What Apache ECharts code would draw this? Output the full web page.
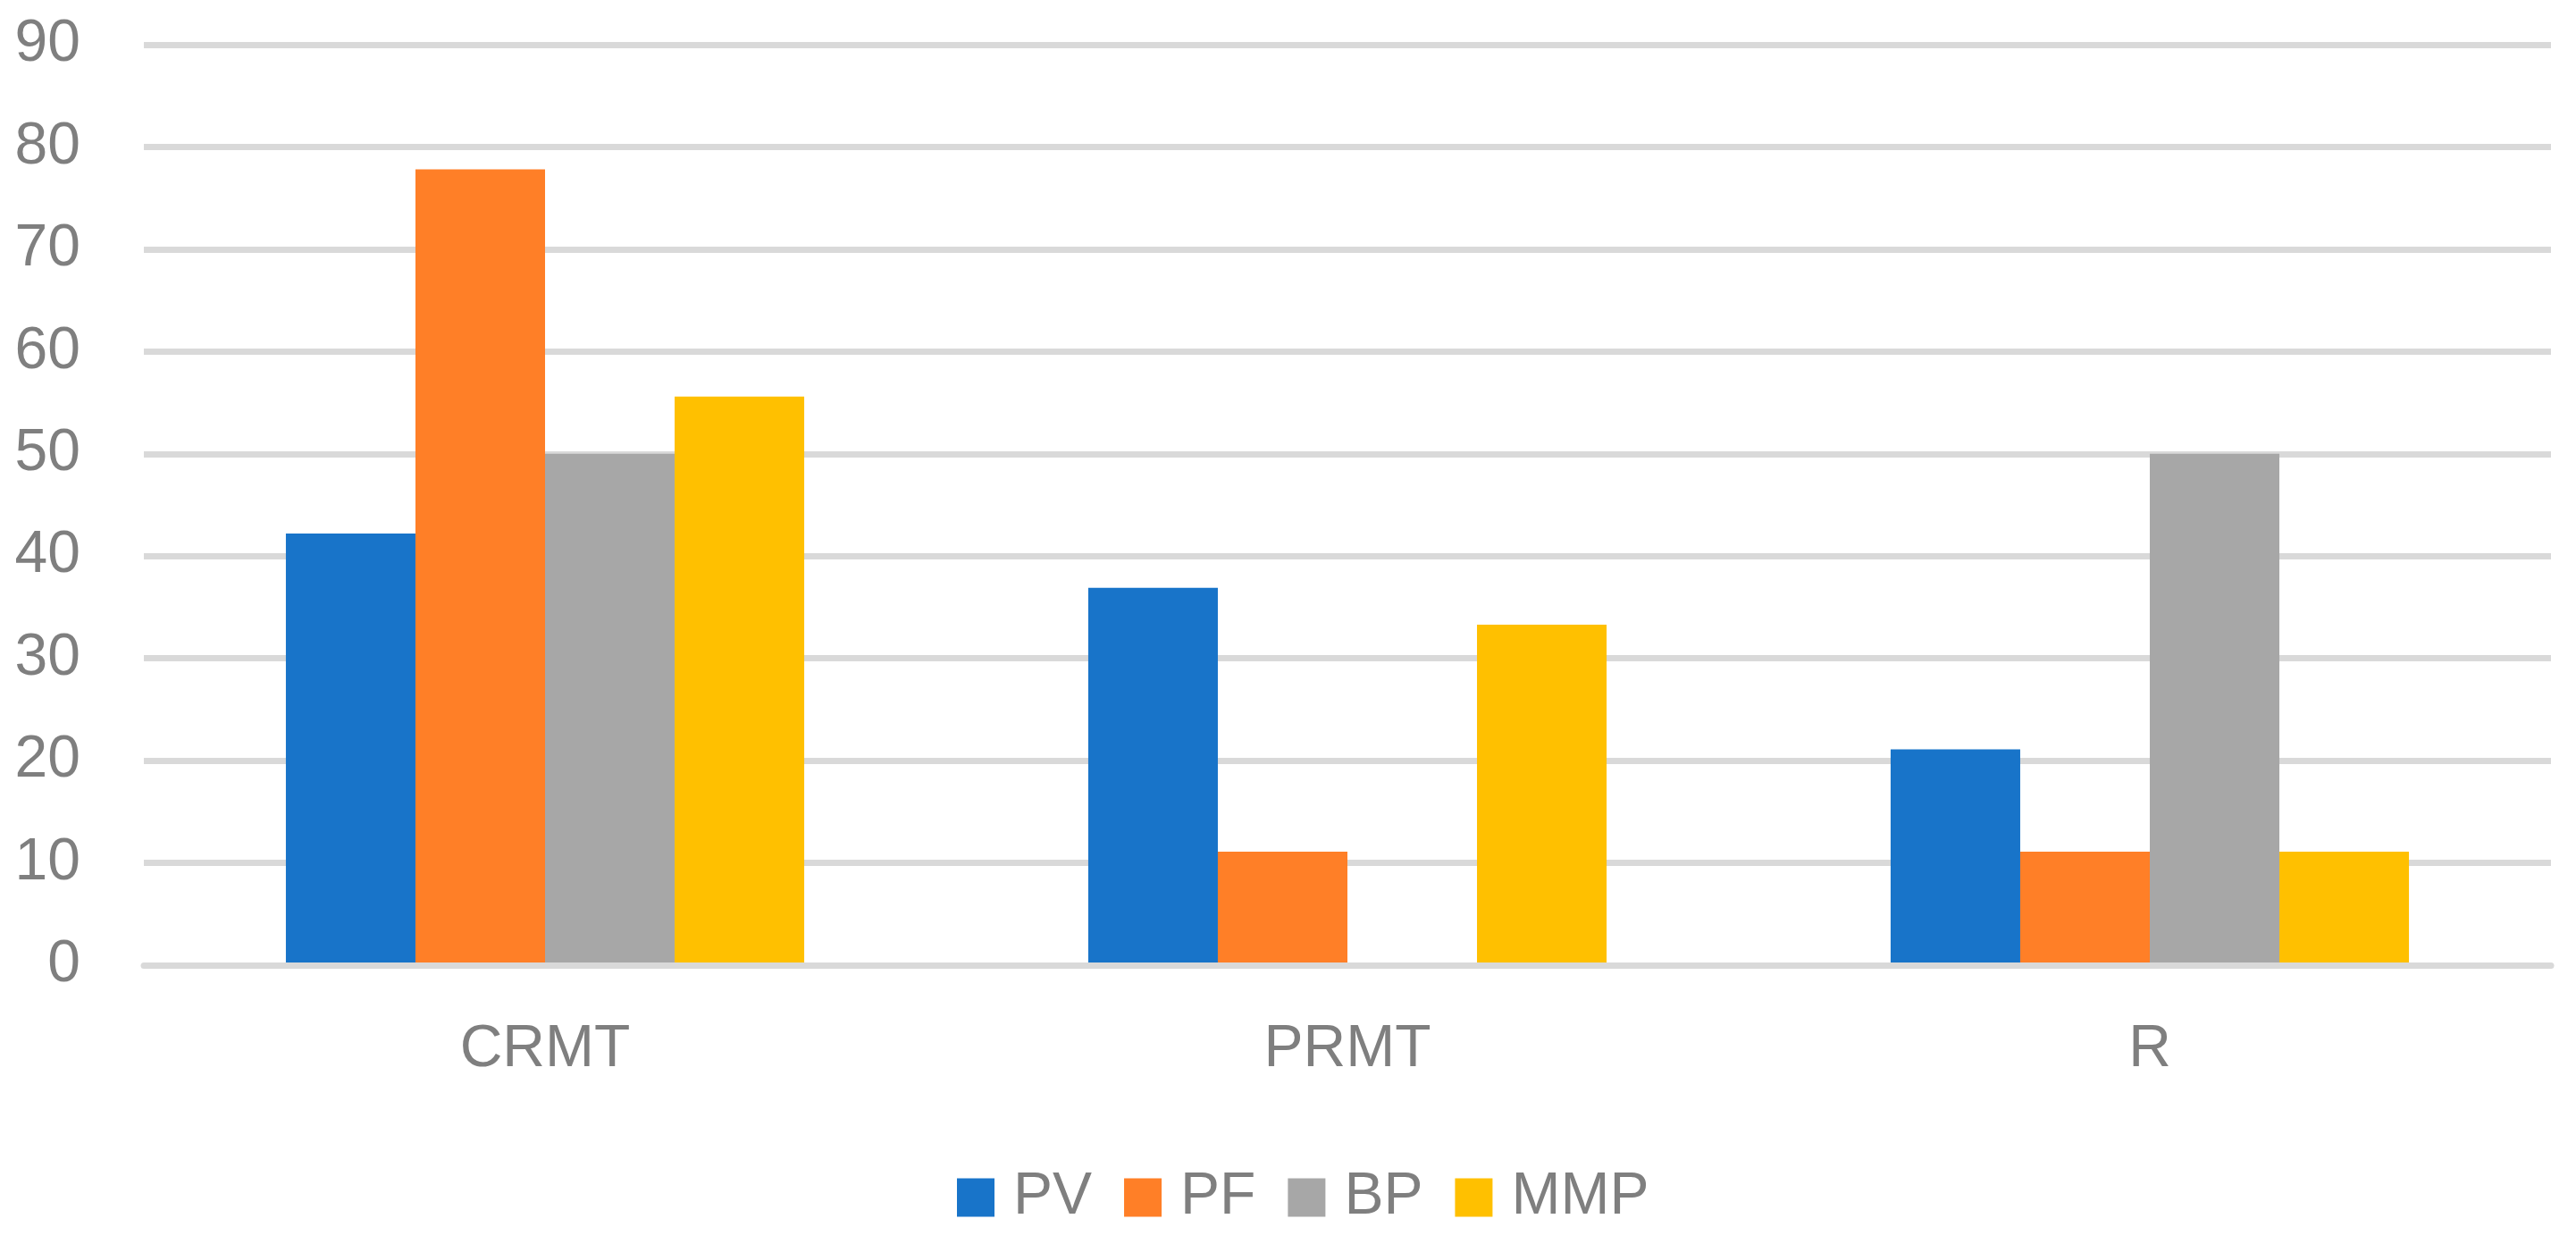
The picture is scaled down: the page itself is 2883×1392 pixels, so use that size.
<!DOCTYPE html>
<html>
<head>
<meta charset="utf-8">
<script src="https://cdn.jsdelivr.net/npm/echarts@6/dist/echarts.min.js"></script>
<style>
  html, body { margin: 0; padding: 0; background: #fff; }
  #chart { width: 2883px; height: 1392px; }
</style>
</head>
<body>
<div id="chart"></div>
<script>
// 数据
const categories = ['CRMT', 'PRMT', 'R']
const seriesNames = ['PV', 'PF', 'BP', 'MMP']
const pvValues = [42.2, 36.9, 21.1]
const pfValues = [77.8, 11.1, 11.1]
const bpValues = [50, 0, 50]
const mmpValues = [55.6, 33.3, 11.1]
const yTicks = [0, 10, 20, 30, 40, 50, 60, 70, 80, 90]

const colors = ['#1874c9', '#ff7f27', '#a7a7a7', '#ffc000']
const seriesValues = [pvValues, pfValues, bpValues, mmpValues]
const textColor = '#7f7f7f'
const fontFamily = "'Liberation Sans', Arial, sans-serif"

const chart = echarts.init(document.getElementById('chart'))
let option = {
  animation: false,
  color: colors,
  grid: {
    left: 161,
    right: 28,
    top: 50,
    bottom: 312,
    containLabel: false
  },
  legend: {
    data: seriesNames,
    left: 1066,
    top: 1302,
    itemWidth: 42,
    itemHeight: 43,
    itemGap: 36,
    icon: 'rect',
    textStyle: {
      color: textColor,
      fontSize: 66,
      fontFamily: fontFamily,
      padding: [0, 0, 0, 16]
    }
  },
  xAxis: {
    type: 'category',
    data: categories,
    z: 3,
    axisLine: { show: true, lineStyle: { color: '#d9d9d9', width: 7 } },
    axisTick: { show: false },
    axisLabel: {
      color: textColor,
      fontSize: 66,
      fontFamily: fontFamily,
      margin: 62
    }
  },
  yAxis: {
    type: 'value',
    min: yTicks[0],
    max: yTicks[yTicks.length - 1],
    interval: 10,
    axisLine: { show: false },
    axisTick: { show: false },
    splitLine: { lineStyle: { color: '#d9d9d9', width: 7 } },
    axisLabel: {
      color: textColor,
      fontSize: 66,
      fontFamily: fontFamily,
      align: 'right',
      margin: 71
    }
  },
  series: seriesNames.map((name, i) => ({
    name: name,
    type: 'bar',
    data: seriesValues[i],
    barGap: '0%',
    barCategoryGap: '35.4%',
    itemStyle: { color: colors[i] }
  }))
}
chart.setOption(option)
</script>
</body>
</html>
